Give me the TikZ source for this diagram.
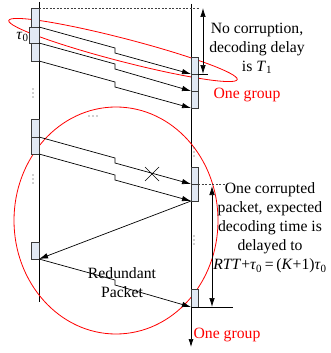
\documentclass[tikz,border=0pt]{standalone}
\usepackage{fontspec}
\setmainfont{Liberation Serif}
\usetikzlibrary{arrows.meta,calc}
\definecolor{boxfill}{HTML}{E2E9F4}
\definecolor{boxedge}{HTML}{3A3A3A}
\begin{document}
\begin{tikzpicture}[x=1pt,y=-1pt,
  pkt/.style={draw=boxedge,fill=boxfill,line width=0.7pt,inner sep=0pt,outer sep=0pt,minimum width=8pt,anchor=north west},
  rpkt/.style={pkt,minimum width=7pt},
  ln/.style={line width=0.7pt,black},
  tip/.style={-{Latex[length=9pt,width=5.5pt]}},
  dtip/.style={{Latex[length=9pt,width=5.5pt]}-{Latex[length=9pt,width=5.5pt]}},
  txt/.style={font=\fontsize{15.7}{19}\selectfont,align=center,inner sep=0pt},
  grp/.style={draw=red,line width=0.8pt},
  dotline/.style={line width=0.7pt,draw=black!75,dash pattern=on 2pt off 1.5pt},
  dt/.style={fill=black!80,circle,inner sep=0pt,minimum size=1.4pt}
]
\useasboundingbox (0,0) rectangle (330,353);
% time lines
\coordinate (ltop) at (39,2);
\coordinate (lbot) at (39,302);
\coordinate (rtop) at (191,4);
\coordinate (rbot) at (191,347);
\draw[ln] (ltop) -- (lbot);
\draw[ln,-{Latex[length=8pt,width=5pt]}] (rtop) -- (rbot);
% groups
\begin{scope}[shift={(123,50)},rotate=-14.5]
  \draw[grp] (0,0) ellipse (118 and 11.5);
\end{scope}
\draw[grp] (116,220.5) ellipse (102 and 113.5);
% left packets
\node[pkt,minimum height=19pt] (a1) at (31,8) {};
\node[pkt,minimum height=16pt,minimum width=10pt] (a2) at (29,27) {};
\node[pkt,minimum height=18pt] (a3) at (31,43) {};
\node[pkt,minimum height=18pt] (b1) at (31,119) {};
\node[pkt,minimum height=17pt] (b2) at (31,137) {};
\node[pkt,minimum height=17pt] (c1) at (31,242) {};
% right packets
\node[rpkt,minimum height=17pt] (r1) at (191,57) {};
\node[rpkt,minimum height=17pt] (r2) at (191,74) {};
\node[rpkt,minimum height=17pt] (r3) at (191,91) {};
\node[rpkt,minimum height=17pt] (rb1) at (191,167) {};
\node[rpkt,minimum height=17pt] (rb2) at (191,184) {};
\node[rpkt,minimum height=18pt] (rc1) at (191,289) {};
\node[txt] (tau) at (22.5,37) {\textit{τ}\textsubscript{0}};
% transmissions
\draw[ln,tip] (a1.south east) -- ++(76,21) -- ++(0,5) -- (r1.south west);
\draw[ln,tip] (a2.south east) -- ++(76,21) -- ++(0,5) -- (r2.south west);
\draw[ln,tip] (a3.south east) -- ++(76,21) -- ++(0,5) -- (r3.south west);
\draw[ln,tip] (b1.south east) -- ++(76,21) -- ++(0,5) -- (rb1.south west);
\draw[ln,tip] (b2.south east) -- ++(76,21) -- ++(0,5) -- (rb2.south west);
\draw[ln,tip] (rb2.south west) -- (c1.south east);
\draw[ln,tip] (c1.south east) -- ++(76,21) -- ++(0,5) -- (rc1.south west);
% loss mark
\coordinate (xm) at (152,174);
\draw[ln] ($(xm)+(-7,-7)$) -- ($(xm)+(7,7)$);
\draw[ln] ($(xm)+(-7,7)$) -- ($(xm)+(7,-7)$);
% dots
\foreach \x/\y [count=\i] in {33/93,33/179,194/152,194/240}{
  \node[dt] (vd\i a) at (\x,\y-4) {};
  \node[dt] (vd\i b) at (\x,\y) {};
  \node[dt] (vd\i c) at (\x,\y+4) {};
}
\node[dt] (hd1) at (89,116) {};
\node[dt] (hd2) at (93,116) {};
\node[dt] (hd3) at (97,116) {};
% delay 1
\coordinate (d1end) at (200,8);
\draw[dotline] (a1.north east) -- (d1end);
\coordinate (t1a) at (203,8);
\coordinate (t1b) at (203,74);
\draw[ln,dtip] (t1a) -- (t1b);
\draw[ln] (r1.south east) -- ++(10,0);
\node[txt] (nocorr) at (257,48) {No corruption,\\decoding delay\\is \textit{T}\textsubscript{1}};
\node[txt,text=red] (grp1) at (247,95) {One group};
% delay 2
\draw[dotline] (rb1.south east) -- ++(27,0);
\coordinate (t2a) at (212,186);
\coordinate (t2b) at (212,307);
\draw[ln,dtip] (t2a) -- (t2b);
\draw[ln] (rc1.south west) -- ++(42,0);
\node[txt] (corr) at (270,228) {One corrupted\\packet, expected\\decoding time is\\delayed to\\\textit{RTT}+\textit{τ}\textsubscript{0}\,=\,(\textit{K}+1)\textit{τ}\textsubscript{0}};
\node[txt] (red) at (122,283) {Redundant\\Packet};
\node[txt,text=red] (grp2) at (227,335) {One group};
\end{tikzpicture}
\end{document}
